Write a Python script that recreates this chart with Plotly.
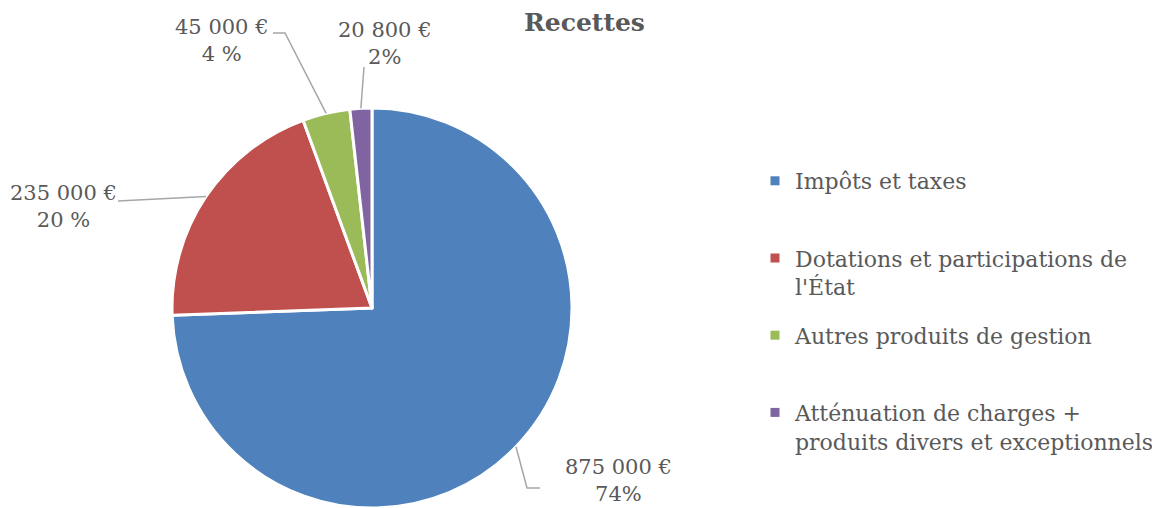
import math
import plotly.graph_objects as go

# ---- data ----
categories = ["Impôts et taxes",
              "Dotations et participations de l'État",
              "Autres produits de gestion",
              "Atténuation de charges + produits divers et exceptionnels"]
legend_labels = ["Impôts et taxes",
                 "Dotations et participations de<br>l'État",
                 "Autres produits de gestion",
                 "Atténuation de charges +<br>produits divers et exceptionnels"]
values = [875000, 235000, 45000, 20800]
value_labels = ["875 000 €", "235 000 €", "45 000 €", "20 800 €"]
pct_labels = ["74%", "20 %", "4 %", "2%"]
colors = ["#4F81BD", "#C0504D", "#9BBB59", "#8064A2"]

# ---- layout geometry (page pixels) ----
OFF = 8                      # default page margin around the figure
FW, FH = 1160 - OFF, 508 - OFF
CX, CY, R = 372, 308, 200
label_centers = [(618, 480), (63, 206), (222, 40), (385, 44)]
leader_points = [[(527, 488), (540, 488)], [(118, 201)], [(285, 33), (273, 33)], [(364, 67)]]
TXT = "#595959"
FONT = "DejaVu Serif"


def px(x):
    return (x - OFF) / FW


def py(y):
    return 1 - (y - OFF) / FH


fig = go.Figure()
fig.add_trace(go.Pie(
    labels=categories, values=values, sort=False, direction="clockwise", rotation=0,
    marker=dict(colors=colors, line=dict(color="white", width=3)),
    textinfo="none", hoverinfo="label+value+percent", showlegend=False,
    domain=dict(x=[px(CX - R), px(CX + R)], y=[max(0, py(CY + R)), py(CY - R)]),
))

# legend entries (one group per category so that every entry gets an equal slot)
for i, lab in enumerate(legend_labels):
    name = lab if "<br>" in lab else lab + "<br>\u00a0"
    fig.add_trace(go.Scatter(
        x=[None], y=[None], mode="markers", name=name, legendgroup=str(i),
        marker=dict(symbol="square", size=9, color=colors[i]),
        hoverinfo="skip"))

total = sum(values)
cum = 0
shapes = []
annotations = []
for i, v in enumerate(values):
    theta = 2 * math.pi * (cum + v / 2) / total
    cum += v
    ex = CX + R * math.sin(theta)
    ey = CY - R * math.cos(theta)
    pts = [(ex, ey)] + leader_points[i]
    path = "M " + " L ".join(f"{px(a):.5f},{py(b):.5f}" for a, b in pts)
    shapes.append(dict(type="path", path=path, xref="paper", yref="paper",
                       line=dict(color="#A6A6A6", width=1.5)))
    lx, ly = label_centers[i]
    annotations.append(dict(
        x=px(lx), y=py(ly), xref="paper", yref="paper", xanchor="center", yanchor="middle",
        text=f"{value_labels[i]}<br>{pct_labels[i]}", showarrow=False, align="center",
        font=dict(family=FONT, size=21, color=TXT)))

fig.update_layout(
    width=FW, height=FH, margin=dict(l=0, r=0, t=0, b=0),
    paper_bgcolor="white", plot_bgcolor="white",
    title=dict(text="<b>Recettes</b>", x=px(584.5), y=py(22), xanchor="center", yanchor="middle",
               font=dict(family=FONT, size=25, color=TXT)),
    xaxis=dict(visible=False), yaxis=dict(visible=False),
    legend=dict(x=px(755), y=py(160), xanchor="left", yanchor="top", valign="top",
                tracegroupgap=17, font=dict(family=FONT, size=22, color=TXT),
                bgcolor="rgba(0,0,0,0)"),
    shapes=shapes, annotations=annotations,
    font=dict(family=FONT, color=TXT),
)

fig.write_html("out.html")
